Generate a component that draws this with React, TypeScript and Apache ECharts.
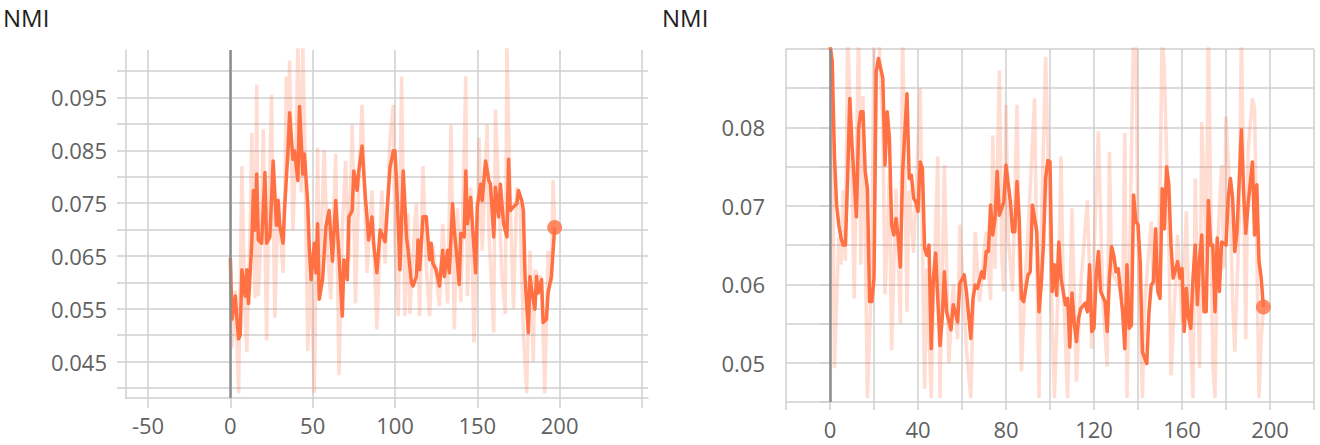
import React, { useEffect, useRef } from "react";
import * as echarts from "echarts";

// ---------- data: left panel ----------
const leftSmoothSteps = [0,1,3,4,5,6,7,9,10,11,13,14,15,16,17,19,21,22,24,26,28,29,30,32,33,35,36,38,39,41,42,44,45,47,48,49,51,52,53,54,56,58,60,62,64,66,68,69,71,72,74,75,77,78,80,82,83,84,86,87,89,91,94,97,99,100,101,103,105,107,108,110,111,113,114,115,117,119,121,122,123,125,127,129,130,132,133,135,136,138,139,140,142,143,144,146,147,149,150,152,153,155,157,158,160,161,163,164,166,168,169,170,172,174,175,177,178,179,181,182,183,185,186,187,189,190,192,193,195,197];
const leftSmoothValues = [0.0646,0.053,0.0574,0.053,0.0493,0.050,0.0624,0.0574,0.0624,0.056,0.0674,0.0774,0.0699,0.0805,0.068,0.0674,0.0808,0.0674,0.0686,0.083,0.0708,0.0755,0.0708,0.0674,0.0743,0.0849,0.0921,0.0833,0.0849,0.0793,0.0933,0.0805,0.0843,0.0749,0.0661,0.0605,0.0674,0.0618,0.0711,0.0568,0.0605,0.0705,0.0736,0.064,0.0755,0.0649,0.0536,0.0643,0.0605,0.0724,0.0736,0.0811,0.0774,0.0811,0.0858,0.0761,0.0724,0.068,0.0724,0.0674,0.0618,0.0699,0.0677,0.0818,0.0849,0.0849,0.0786,0.0624,0.0811,0.0686,0.0661,0.0599,0.0593,0.0611,0.068,0.0624,0.0724,0.0724,0.0643,0.0674,0.0636,0.0624,0.0593,0.0661,0.0611,0.0661,0.0618,0.0749,0.0699,0.0636,0.0596,0.0693,0.0686,0.0811,0.0711,0.0761,0.0711,0.0618,0.0743,0.0786,0.0755,0.083,0.0793,0.0786,0.0686,0.078,0.0724,0.0786,0.0711,0.0686,0.0833,0.0736,0.0743,0.0749,0.0774,0.0755,0.0736,0.0611,0.0505,0.0611,0.0586,0.0549,0.0611,0.058,0.0605,0.0524,0.053,0.058,0.0611,0.0704];
const leftRawSteps = [0,1,3,5,7,9,10,12,13,15,16,17,19,20,22,23,25,27,29,32,33,34,35,36,38,40,41,43,44,45,47,49,51,53,54,57,59,61,64,66,68,70,72,74,76,78,80,83,86,89,92,94,97,99,100,102,104,106,108,109,112,113,115,117,119,121,123,125,127,129,132,134,136,138,140,143,144,146,148,150,151,153,156,157,160,161,163,165,167,168,170,172,174,176,178,180,182,184,185,187,189,191,193,195,196,197];
const leftRawValues = [0.064,0.0475,0.0585,0.039,0.082,0.053,0.0468,0.070,0.0883,0.057,0.0974,0.0574,0.072,0.089,0.049,0.067,0.0955,0.0533,0.076,0.0618,0.0755,0.099,0.083,0.102,0.0699,0.088,0.105,0.077,0.105,0.0905,0.047,0.063,0.039,0.0855,0.058,0.085,0.066,0.0568,0.0843,0.0424,0.070,0.083,0.064,0.0899,0.056,0.079,0.0936,0.0618,0.0774,0.0511,0.0774,0.0636,0.0874,0.0936,0.067,0.0536,0.099,0.0536,0.073,0.054,0.071,0.0749,0.0536,0.082,0.063,0.0536,0.067,0.0611,0.0555,0.071,0.056,0.0899,0.0511,0.074,0.0563,0.099,0.0574,0.078,0.0486,0.0658,0.0874,0.066,0.0899,0.0699,0.0505,0.0927,0.077,0.0611,0.054,0.105,0.075,0.055,0.078,0.0736,0.0505,0.039,0.066,0.045,0.0624,0.0611,0.061,0.039,0.066,0.060,0.0793,0.0704];

// ---------- data: right panel ----------
const rightSmoothSteps = [0,1,2,3,4,5,6,7,8,9,10,12,13,14,15,16,17,18,19,20,21,22,24,25,26,27,28,29,30,31,32,33,35,36,37,38,39,40,41,42,43,44,45,46,47,48,50,51,52,53,55,56,57,58,59,61,62,64,65,66,67,69,70,71,72,73,74,75,76,77,79,80,82,83,84,85,86,87,88,90,91,92,94,95,96,97,98,99,100,101,102,103,104,105,107,108,109,110,111,112,113,114,116,117,118,119,120,121,122,123,125,126,127,128,129,130,131,133,134,135,136,137,138,139,140,141,142,144,145,146,147,148,149,150,151,152,153,154,155,156,158,159,160,161,162,163,164,165,166,167,168,169,170,171,172,173,174,175,176,177,178,180,181,182,183,184,185,187,188,189,190,192,193,194,195,196,197];
const rightSmoothValues = [0.0905,0.0885,0.0765,0.0701,0.0676,0.0659,0.065,0.065,0.0735,0.0837,0.0778,0.0686,0.0799,0.082,0.082,0.0744,0.0722,0.0578,0.0578,0.0608,0.0871,0.0888,0.0863,0.0752,0.082,0.0786,0.0676,0.0663,0.0684,0.0659,0.0622,0.0744,0.0843,0.0735,0.0739,0.071,0.0705,0.0693,0.0756,0.0748,0.0646,0.0637,0.065,0.0518,0.0608,0.064,0.0522,0.0557,0.0616,0.0565,0.0542,0.0574,0.0565,0.0552,0.0601,0.0612,0.0591,0.0531,0.0582,0.0599,0.0595,0.0616,0.0608,0.0642,0.0642,0.0701,0.0663,0.0684,0.0744,0.0688,0.0705,0.0752,0.0705,0.0667,0.0667,0.0731,0.0684,0.0582,0.0578,0.0612,0.0616,0.0701,0.0667,0.0565,0.0599,0.065,0.0735,0.0758,0.0756,0.0591,0.0625,0.0586,0.0654,0.0608,0.0574,0.0582,0.052,0.0589,0.0552,0.0527,0.0557,0.0569,0.0576,0.0565,0.0625,0.054,0.0544,0.0612,0.0642,0.0591,0.0578,0.054,0.0608,0.0648,0.0637,0.0616,0.062,0.0565,0.0518,0.0625,0.0544,0.0548,0.0714,0.068,0.0676,0.0629,0.0514,0.0499,0.0565,0.0599,0.0603,0.0671,0.0591,0.0582,0.0722,0.0671,0.075,0.0727,0.065,0.0608,0.0629,0.0608,0.062,0.054,0.0595,0.0557,0.0544,0.0608,0.065,0.0574,0.0633,0.0663,0.0565,0.0565,0.0707,0.065,0.065,0.0565,0.0659,0.0591,0.0654,0.065,0.071,0.0735,0.071,0.0642,0.0667,0.0797,0.0718,0.0665,0.0701,0.0756,0.0663,0.0727,0.0629,0.0608,0.0571];
const rightRawSteps = [0,1,2,4,5,6,7,8,10,11,13,14,15,16,17,19,20,22,24,25,27,28,30,32,33,35,36,38,41,43,44,46,47,49,50,52,54,56,58,59,62,64,66,68,70,71,73,74,75,77,78,79,80,81,83,85,86,87,89,90,93,94,95,96,98,99,101,102,104,105,106,108,109,110,112,114,117,119,120,122,124,126,127,128,129,131,133,134,135,136,138,139,140,142,143,146,147,149,150,151,152,154,155,157,158,160,162,163,165,166,168,169,171,172,174,175,176,178,179,180,182,183,184,186,187,188,189,190,192,193,195,196,197];
const rightRawValues = [0.092,0.083,0.0493,0.066,0.0625,0.072,0.063,0.093,0.074,0.0582,0.093,0.0625,0.084,0.067,0.0455,0.062,0.093,0.093,0.080,0.0587,0.074,0.0516,0.0722,0.055,0.093,0.0565,0.072,0.064,0.085,0.0467,0.062,0.0455,0.058,0.0763,0.0455,0.0752,0.050,0.060,0.053,0.0676,0.0517,0.0455,0.0667,0.0578,0.064,0.0667,0.058,0.079,0.062,0.0873,0.064,0.0591,0.0829,0.066,0.0591,0.0829,0.064,0.0489,0.062,0.0667,0.0837,0.062,0.0455,0.066,0.089,0.078,0.0552,0.0455,0.062,0.0763,0.060,0.0455,0.058,0.0697,0.0476,0.060,0.0707,0.0518,0.064,0.0795,0.058,0.0495,0.0769,0.062,0.0611,0.060,0.058,0.0793,0.0455,0.060,0.093,0.093,0.066,0.0455,0.0574,0.068,0.060,0.0616,0.072,0.093,0.087,0.066,0.0484,0.060,0.0663,0.055,0.0693,0.058,0.0455,0.0735,0.0493,0.0807,0.064,0.093,0.0497,0.0455,0.064,0.0752,0.062,0.0814,0.070,0.0578,0.0514,0.068,0.093,0.072,0.053,0.0769,0.0837,0.0824,0.0455,0.053,0.057];

const panelTitle = "NMI";

// ---------- styles ----------
const ORANGE = "#ff7043";
const GRID = "#cfcfcf";
const ZERO = "#8c8c8c";
const LABEL = "#616161";
const FONT = "'Open Sans', 'Noto Sans', sans-serif";

function pairs(xs: number[], ys: number[]) {
  return xs.map((x, i) => [x, ys[i]]);
}

export default function App() {
  const ref = useRef<HTMLDivElement>(null);
  useEffect(() => {
    if (!ref.current) return;
    const chart = echarts.init(ref.current, undefined, { renderer: "svg" });
    const lastL = leftSmoothSteps.length - 1;
    const lastR = rightSmoothSteps.length - 1;
    const labelStyle = { color: LABEL, fontSize: 22, fontFamily: FONT };
    const titleStyle = { fontSize: 24, fontWeight: "normal", color: "#212121", fontFamily: FONT };
    const zeroLine = { silent: true, symbol: "none", label: { show: false }, lineStyle: { color: ZERO, width: 2.5, type: "solid", opacity: 1 }, data: [{ xAxis: 0 }] };
    const option: any = {
      animation: false,
      title: [
        { text: panelTitle, left: 3, top: 5, padding: 0, textStyle: titleStyle },
        { text: panelTitle, left: 662, top: 5, padding: 0, textStyle: titleStyle },
      ],
      grid: [
        { left: 126, top: 50, width: 522, height: 348 },
        { left: 126, top: 71, width: 522, height: 317 },
        { left: 148, top: 50, width: 494, height: 348 },
        { left: 786, top: 49, width: 528, height: 353 },
      ],
      xAxis: [
        { gridIndex: 0, type: "value", min: -63.4, max: 253.7, axisLine: { show: true, onZero: false, lineStyle: { color: GRID, width: 1.5 } }, axisTick: { show: false }, axisLabel: { show: false }, splitLine: { show: false } },
        { gridIndex: 1, type: "value", min: 0, max: 1, show: false },
        { gridIndex: 2, type: "value", min: -50, max: 250, interval: 50,
          axisLine: { show: false }, axisTick: { show: true, length: 10, lineStyle: { color: GRID, width: 1.5 } },
          axisLabel: { ...labelStyle, margin: 16, formatter: (v: number) => (v === 250 ? "" : String(v)) },
          splitLine: { show: true, lineStyle: { color: GRID, width: 1.5 } } },
        { gridIndex: 3, type: "value", min: -20, max: 220, interval: 20,
          axisLine: { show: false }, axisTick: { show: true, length: 8, lineStyle: { color: GRID, width: 1.5 } },
          axisLabel: { ...labelStyle, margin: 16, formatter: (v: number) => (v >= 0 && v <= 200 && Math.round(v) % 40 === 0 ? String(Math.round(v)) : "") },
          splitLine: { show: true, showMinLine: true, showMaxLine: true, lineStyle: { color: GRID, width: 1.5 } } },
      ],
      yAxis: [
        { gridIndex: 0, type: "value", min: 0.0381, max: 0.104, axisLine: { show: true, onZero: false, lineStyle: { color: GRID, width: 1.5 } }, axisTick: { show: false }, axisLabel: { show: false }, splitLine: { show: false } },
        { gridIndex: 1, type: "value", min: 0.04, max: 0.1, interval: 0.005,
          axisLine: { show: false }, axisTick: { show: true, length: 9, lineStyle: { color: GRID, width: 1.5 } },
          axisLabel: { ...labelStyle, margin: 19, formatter: (v: number) => (Math.round(v * 1000) % 10 === 5 ? v.toFixed(3) : "") },
          splitLine: { show: true, lineStyle: { color: GRID, width: 1.5 } } },
        { gridIndex: 2, type: "value", min: 0, max: 1, show: false },
        { gridIndex: 3, type: "value", min: 0.045, max: 0.09, interval: 0.005,
          axisLine: { show: false }, axisTick: { show: true, length: 10, lineStyle: { color: GRID, width: 1.5 } },
          axisLabel: { ...labelStyle, margin: 21, formatter: (v: number) => (v < 0.0875 && Math.round(v * 1000) % 10 === 0 ? v.toFixed(2) : "") },
          splitLine: { show: true, showMinLine: true, showMaxLine: true, lineStyle: { color: GRID, width: 1.5 } } },
      ],
      series: [
        { type: "line", xAxisIndex: 0, yAxisIndex: 0, data: pairs(leftRawSteps, leftRawValues), symbol: "none", clip: true,
          lineStyle: { color: ORANGE, opacity: 0.24, width: 3.5 }, markLine: zeroLine },
        { type: "line", xAxisIndex: 0, yAxisIndex: 0, data: pairs(leftSmoothSteps, leftSmoothValues), symbol: "none", clip: true,
          lineStyle: { color: ORANGE, width: 3.5, join: "round" } },
        { type: "scatter", xAxisIndex: 0, yAxisIndex: 0, data: [[leftSmoothSteps[lastL], leftSmoothValues[lastL]]], symbolSize: 15, itemStyle: { color: ORANGE } },
        { type: "line", xAxisIndex: 3, yAxisIndex: 3, data: pairs(rightRawSteps, rightRawValues), symbol: "none", clip: true,
          lineStyle: { color: ORANGE, opacity: 0.24, width: 3.5 }, markLine: zeroLine },
        { type: "line", xAxisIndex: 3, yAxisIndex: 3, data: pairs(rightSmoothSteps, rightSmoothValues), symbol: "none", clip: true,
          lineStyle: { color: ORANGE, width: 3.5, join: "round" } },
        { type: "scatter", xAxisIndex: 3, yAxisIndex: 3, data: [[rightSmoothSteps[lastR], rightSmoothValues[lastR]]], symbolSize: 15, itemStyle: { color: ORANGE } },
      ],
    };
    chart.setOption(option);
    return () => chart.dispose();
  }, []);
  return <div ref={ref} style={{ position: "fixed", left: 0, top: 0, width: 1320, height: 445, background: "#fff" }} />;
}
